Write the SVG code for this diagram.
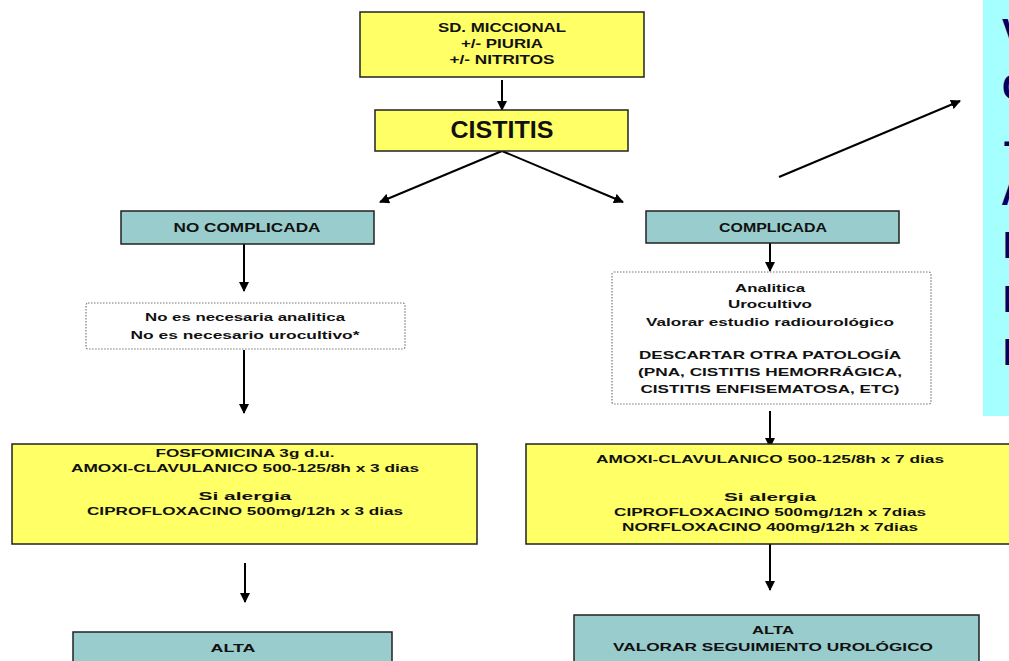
<svg xmlns="http://www.w3.org/2000/svg" width="1009" height="661" viewBox="0 0 1009 661">
<style>
.y{fill:#ffff66;stroke:#222;stroke-width:1.5}
.t{fill:#99cccc;stroke:#222;stroke-width:1.5}
.d{fill:#fff;stroke:#777;stroke-width:1.2;stroke-dasharray:1.5 1.5}
text{font-family:"Liberation Sans",Arial,sans-serif;font-weight:bold;fill:#111;text-anchor:middle}
.s11{font-size:11px}
.s12{font-size:12px}
.s13{font-size:13px}
.c{stroke:#000;stroke-width:2;fill:none;marker-end:url(#ah)}
.big{font-size:36px;fill:#000066;text-anchor:start}
</style>
<defs>
<marker id="ah" viewBox="0 0 10 10" refX="9" refY="5" markerWidth="10" markerHeight="10" markerUnits="userSpaceOnUse" orient="auto"><path d="M0,0 L10,5 L0,10 z" fill="#000"/></marker>
</defs>
<rect width="1009" height="661" fill="#fff"/>

<g id="panel">
<rect x="983" y="0" width="40" height="416" fill="#a6ffff"/>
<text class="big" x="1002" y="45">V</text>
<text class="big" x="1002" y="100">C</text>
<text class="big" x="1003" y="153">-</text>
<text class="big" x="1001" y="205">A</text>
<text class="big" x="1003" y="258">I</text>
<text class="big" x="1003" y="312">I</text>
<text class="big" x="1003" y="365">I</text>
</g>

<g id="connectors">
<line class="c" x1="502" y1="80" x2="502" y2="110"/>
<line class="c" x1="502" y1="151" x2="380" y2="202"/>
<line class="c" x1="502" y1="151" x2="623" y2="202"/>
<line class="c" x1="244" y1="244" x2="244" y2="291"/>
<line class="c" x1="244" y1="350" x2="244" y2="413"/>
<line class="c" x1="770" y1="243" x2="770" y2="271"/>
<line class="c" x1="770" y1="411" x2="770" y2="447"/>
<line class="c" x1="770" y1="544" x2="770" y2="590"/>
<line class="c" x1="245" y1="563" x2="245" y2="602"/>
<line class="c" x1="779" y1="177" x2="960" y2="101"/>
</g>

<g id="sd">
<rect class="y" x="360" y="12" width="284" height="65"/>
<text class="s13" x="502" y="32" textLength="128" lengthAdjust="spacingAndGlyphs">SD. MICCIONAL</text>
<text class="s13" x="502" y="48" textLength="82" lengthAdjust="spacingAndGlyphs">+/- PIURIA</text>
<text class="s13" x="502" y="64" textLength="105" lengthAdjust="spacingAndGlyphs">+/- NITRITOS</text>
</g>

<g id="cistitis">
<rect class="y" x="375" y="110" width="253" height="41"/>
<text x="502" y="138" style="font-size:23px" textLength="103" lengthAdjust="spacingAndGlyphs">CISTITIS</text>
</g>

<g id="nocomplicada">
<rect class="t" x="121" y="211" width="253" height="33"/>
<text class="s12" x="247" y="232" textLength="147" lengthAdjust="spacingAndGlyphs">NO COMPLICADA</text>
</g>

<g id="complicada">
<rect class="t" x="646" y="211" width="253" height="32"/>
<text class="s12" x="773" y="232" textLength="108" lengthAdjust="spacingAndGlyphs">COMPLICADA</text>
</g>

<g id="noanalitica">
<rect class="d" x="86" y="303" width="319" height="46" rx="2"/>
<text class="s11" x="245" y="321" textLength="200" lengthAdjust="spacingAndGlyphs">No es necesaria analitica</text>
<text class="s11" x="245" y="339" textLength="229" lengthAdjust="spacingAndGlyphs">No es necesario urocultivo*</text>
</g>

<g id="analitica">
<rect class="d" x="612" y="272" width="319" height="132" rx="2"/>
<text class="s11" x="770" y="292" textLength="70" lengthAdjust="spacingAndGlyphs">Analitica</text>
<text class="s11" x="770" y="308" textLength="84" lengthAdjust="spacingAndGlyphs">Urocultivo</text>
<text class="s11" x="770" y="326" textLength="248" lengthAdjust="spacingAndGlyphs">Valorar estudio radiourológico</text>
<text class="s11" x="770" y="359" textLength="262" lengthAdjust="spacingAndGlyphs">DESCARTAR OTRA PATOLOGÍA</text>
<text class="s11" x="770" y="376" textLength="264" lengthAdjust="spacingAndGlyphs">(PNA, CISTITIS HEMORRÁGICA,</text>
<text class="s11" x="770" y="393" textLength="259" lengthAdjust="spacingAndGlyphs">CISTITIS ENFISEMATOSA, ETC)</text>
</g>

<g id="tratamiento1">
<rect class="y" x="12" y="444" width="465" height="100"/>
<text class="s11" x="245" y="457" textLength="179" lengthAdjust="spacingAndGlyphs">FOSFOMICINA 3g d.u.</text>
<text class="s11" x="245" y="472" textLength="348" lengthAdjust="spacingAndGlyphs">AMOXI-CLAVULANICO 500-125/8h x 3 dias</text>
<text class="s11" x="245" y="500" textLength="93" lengthAdjust="spacingAndGlyphs">Si alergia</text>
<text class="s11" x="245" y="515" textLength="316" lengthAdjust="spacingAndGlyphs">CIPROFLOXACINO 500mg/12h x 3 dias</text>
</g>

<g id="tratamiento2">
<rect class="y" x="526" y="444" width="500" height="100"/>
<text class="s11" x="770" y="463" textLength="348" lengthAdjust="spacingAndGlyphs">AMOXI-CLAVULANICO 500-125/8h x 7 dias</text>
<text class="s11" x="770" y="501" textLength="92" lengthAdjust="spacingAndGlyphs">Si alergia</text>
<text class="s11" x="770" y="516" textLength="312" lengthAdjust="spacingAndGlyphs">CIPROFLOXACINO 500mg/12h x 7dias</text>
<text class="s11" x="770" y="531" textLength="296" lengthAdjust="spacingAndGlyphs">NORFLOXACINO 400mg/12h x 7dias</text>
</g>

<g id="alta1">
<rect class="t" x="73" y="632" width="319" height="40"/>
<text class="s11" x="233" y="652" textLength="45" lengthAdjust="spacingAndGlyphs">ALTA</text>
</g>

<g id="alta2">
<rect class="t" x="574" y="615" width="405" height="60"/>
<text class="s11" x="773" y="634" textLength="42" lengthAdjust="spacingAndGlyphs">ALTA</text>
<text class="s11" x="773" y="651" textLength="320" lengthAdjust="spacingAndGlyphs">VALORAR SEGUIMIENTO UROLÓGICO</text>
</g>
</svg>
